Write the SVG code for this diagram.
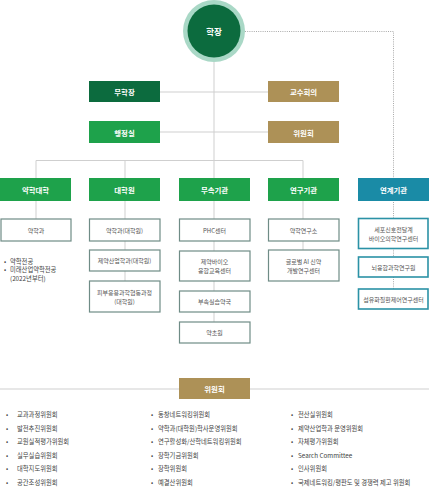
<svg xmlns="http://www.w3.org/2000/svg" width="429" height="500" viewBox="0 0 429 500">
<style>
text{font-family:"Noto Sans CJK KR","Noto Sans",sans-serif}
.w{fill:#fff;font-size:7.4px;font-weight:bold;text-anchor:middle;dominant-baseline:central}
.s{fill:#555;font-size:6px;text-anchor:middle;dominant-baseline:central}
.l{fill:#444;font-size:6.3px;dominant-baseline:central}
.line{stroke:#cfcfcf;stroke-width:1;fill:none}
.dot{stroke:#aaa;stroke-width:1;fill:none;stroke-dasharray:1 1.2}
.dk{fill:#0c6b3e}.gr{fill:#1ea24b}.gd{fill:#ad9157}.tl{fill:#1a8ba6}
.sb{fill:#fff;stroke:#6f8c86;stroke-width:1.2}
.tb{fill:#fff;stroke:#2b92a6;stroke-width:1.6}
</style>
<g id="connectors">
<line class="line" x1="214" y1="0" x2="214" y2="160"/>
<line class="line" x1="160" y1="92" x2="268" y2="92"/>
<line class="line" x1="160" y1="132" x2="268" y2="132"/>
<polyline class="line" points="36,178 36,160.5 303,160.5 303,178"/>
<line class="line" x1="125" y1="160" x2="125" y2="178"/>
<line class="line" x1="214" y1="160" x2="214" y2="178"/>
<line class="line" x1="36" y1="201" x2="36" y2="219"/>
<line class="line" x1="125" y1="201" x2="125" y2="281"/>
<line class="line" x1="214" y1="201" x2="214" y2="322"/>
<line class="line" x1="303" y1="201" x2="303" y2="250"/>
<polyline class="dot" points="245,31.5 393.5,31.5 393.5,289"/>
<line class="line" x1="0" y1="389" x2="429" y2="389"/>
</g>
<g id="president">
<circle cx="214" cy="31" r="31" fill="#a9d8c6"/>
<circle cx="214" cy="31" r="26.5" fill="#0c6b3e"/>
<text class="w" x="214" y="31" style="font-size:8.5px">학장</text>
</g>
<g id="vice"><rect class="dk" x="89" y="81" width="71" height="21"/><text class="w" x="124.5" y="91.5">부학장</text></g>
<g id="admin"><rect class="gr" x="89" y="121" width="71" height="22"/><text class="w" x="124.5" y="132">행정실</text></g>
<g id="faculty"><rect class="gd" x="268" y="81" width="71" height="21"/><text class="w" x="303.5" y="91.5">교수회의</text></g>
<g id="committee-top"><rect class="gd" x="268" y="121" width="71" height="22"/><text class="w" x="303.5" y="132">위원회</text></g>

<g id="college"><rect class="gr" x="0" y="178" width="71" height="23"/><text class="w" x="35.5" y="189.5">약학대학</text></g>
<g id="grad"><rect class="gr" x="89" y="178" width="71" height="23"/><text class="w" x="124.5" y="189.5">대학원</text></g>
<g id="affil"><rect class="gr" x="179" y="178" width="71" height="23"/><text class="w" x="214.5" y="189.5">부속기관</text></g>
<g id="research"><rect class="gr" x="268" y="178" width="71" height="23"/><text class="w" x="303.5" y="189.5">연구기관</text></g>
<g id="linked"><rect class="tl" x="358" y="178" width="71" height="23"/><text class="w" x="393.5" y="189.5">연계기관</text></g>

<g id="pharm"><rect class="sb" x="1" y="219" width="70" height="22"/><text class="s" x="36" y="230">약학과</text></g>
<g id="pharm-notes">
<text class="l" x="4" y="261">•</text><text class="l" x="10" y="261">약학전공</text>
<text class="l" x="4" y="269">•</text><text class="l" x="10" y="269">미래산업약학전공</text>
<text class="l" x="10" y="278">(2022년부터)</text>
</g>
<g id="g1"><rect class="sb" x="89.5" y="219" width="70.5" height="22"/><text class="s" x="124.5" y="230">약학과(대학원)</text></g>
<g id="g2"><rect class="sb" x="89.5" y="250" width="70.5" height="21"/><text class="s" x="124.5" y="260.5">제약산업학과(대학원)</text></g>
<g id="g3"><rect class="sb" x="89.5" y="281" width="70.5" height="31"/><text class="s" x="124.5" y="292">피부응용과학협동과정</text><text class="s" x="124.5" y="301">(대학원)</text></g>

<g id="a1"><rect class="sb" x="179.5" y="219" width="70.5" height="22"/><text class="s" x="214.5" y="230">PHC센터</text></g>
<g id="a2"><rect class="sb" x="179.5" y="251" width="70.5" height="30"/><text class="s" x="214.5" y="261.5">제약바이오</text><text class="s" x="214.5" y="270.5">융합교육센터</text></g>
<g id="a3"><rect class="sb" x="179.5" y="291" width="70.5" height="21"/><text class="s" x="214.5" y="301.5">부속실습약국</text></g>
<g id="a4"><rect class="sb" x="179.5" y="322" width="70.5" height="21"/><text class="s" x="214.5" y="332.5">약초원</text></g>

<g id="r1"><rect class="sb" x="268.5" y="219" width="70.5" height="22"/><text class="s" x="303.5" y="230">약학연구소</text></g>
<g id="r2"><rect class="sb" x="268.5" y="250" width="70.5" height="31"/><text class="s" x="303.5" y="261">글로벌 AI 신약</text><text class="s" x="303.5" y="270">개발연구센터</text></g>

<g id="l1"><rect class="tb" x="358.5" y="218.5" width="69.5" height="30"/><text class="s" x="393.5" y="229">세포신호전달계</text><text class="s" x="393.5" y="238">바이오의학연구센터</text></g>
<g id="l2"><rect class="tb" x="358.5" y="257" width="69.5" height="20"/><text class="s" x="393.5" y="267">뇌융합과학연구원</text></g>
<g id="l3"><rect class="tb" x="358.5" y="289" width="69.5" height="20"/><text class="s" x="393.5" y="299">섬유화질환제어연구센터</text></g>

<g id="committee"><rect class="gd" x="179" y="378" width="71" height="21"/><text class="w" x="214.5" y="388.5">위원회</text></g>

<g id="committee-list">
<text class="l" x="6" y="414">•</text><text class="l" x="17" y="414">교과과정위원회</text>
<text class="l" x="6" y="428">•</text><text class="l" x="17" y="428">발전추진위원회</text>
<text class="l" x="6" y="441.5">•</text><text class="l" x="17" y="441.5">교원실적평가위원회</text>
<text class="l" x="6" y="455">•</text><text class="l" x="17" y="455">실무실습위원회</text>
<text class="l" x="6" y="468.5">•</text><text class="l" x="17" y="468.5">대학지도위원회</text>
<text class="l" x="6" y="482">•</text><text class="l" x="17" y="482">공간조성위원회</text>

<text class="l" x="151" y="414">•</text><text class="l" x="158" y="414">동창네트워킹위원회</text>
<text class="l" x="151" y="428">•</text><text class="l" x="158" y="428">약학과(대학원)학사운영위원회</text>
<text class="l" x="151" y="441.5">•</text><text class="l" x="158" y="441.5">연구활성화/산학네트워킹위원회</text>
<text class="l" x="151" y="455">•</text><text class="l" x="158" y="455">장학기금위원회</text>
<text class="l" x="151" y="468.5">•</text><text class="l" x="158" y="468.5">장학위원회</text>
<text class="l" x="151" y="482">•</text><text class="l" x="158" y="482">예결산위원회</text>

<text class="l" x="291" y="414">•</text><text class="l" x="298" y="414">전산실위원회</text>
<text class="l" x="291" y="428">•</text><text class="l" x="298" y="428">제약산업학과 운영위원회</text>
<text class="l" x="291" y="441.5">•</text><text class="l" x="298" y="441.5">자체평가위원회</text>
<text class="l" x="291" y="455">•</text><text class="l" x="298" y="455">Search Committee</text>
<text class="l" x="291" y="468.5">•</text><text class="l" x="298" y="468.5">인사위원회</text>
<text class="l" x="291" y="482">•</text><text class="l" x="298" y="482">국제네트워킹/평판도 및 경쟁력 제고 위원회</text>
</g>
</svg>
